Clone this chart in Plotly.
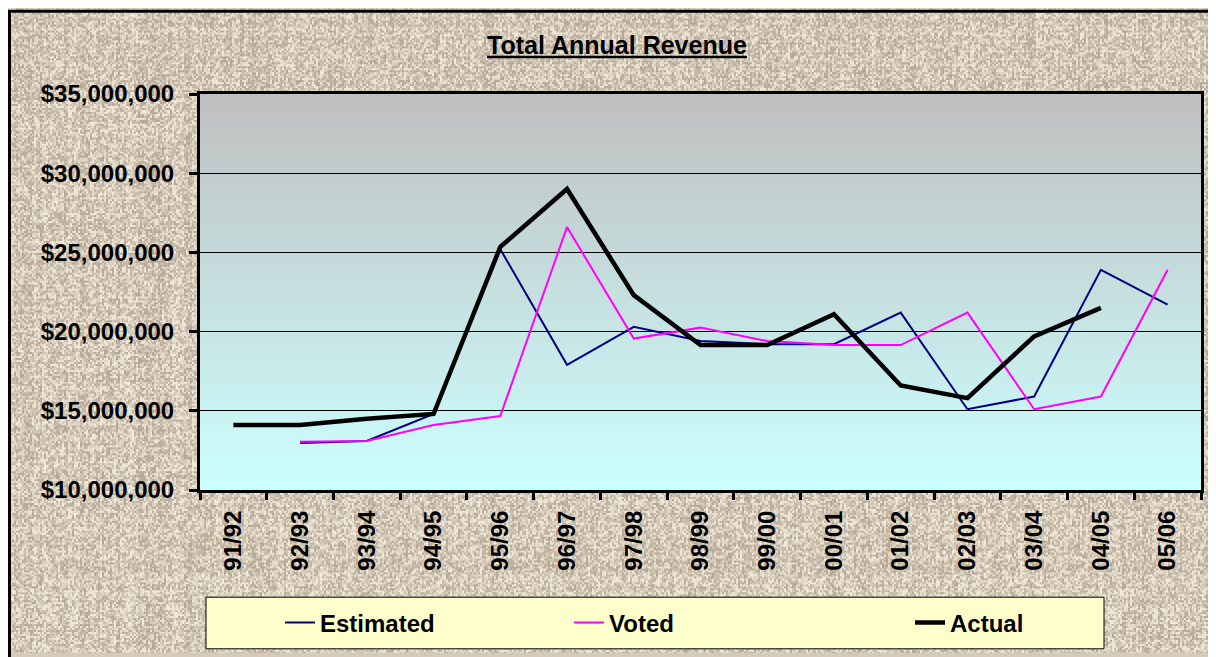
import base64
import struct
import zlib

import plotly.graph_objects as go

# ============================
# Dados
# ============================
years = ["91/92", "92/93", "93/94", "94/95", "95/96", "96/97", "97/98", "98/99",
         "99/00", "00/01", "01/02", "02/03", "03/04", "04/05", "05/06"]

estimated = [None, 12.96e6, 13.1e6, 14.8e6, 25.2e6, 17.9e6, 20.3e6, 19.4e6,
             19.2e6, 19.2e6, 21.2e6, 15.1e6, 15.9e6, 23.9e6, 21.7e6]

voted = [None, 13.05e6, 13.1e6, 14.1e6, 14.67e6, 26.6e6, 19.56e6, 20.25e6,
         19.4e6, 19.15e6, 19.15e6, 21.2e6, 15.1e6, 15.9e6, 23.9e6]

actual = [14.1e6, 14.1e6, 14.5e6, 14.8e6, 25.35e6, 29.0e6, 22.3e6, 19.15e6,
          19.15e6, 21.1e6, 16.6e6, 15.8e6, 19.7e6, 21.5e6, None]

FONT = "Arial, Liberation Sans, sans-serif"

# A página tem margem de 8px no body: a figura ocupa o resto da janela
W, H = 1208, 649
L, R, T, B = 192, 1193, 86, 485


def px_x(p):
    return (p - L) / (R - L)


def px_y(p):
    return (B - p) / (B - T)


def png_uri(width, height, rows):
    # rows: lista de bytes (RGB) já com o byte de filtro na frente
    def chunk(tag, data):
        return (struct.pack(">I", len(data)) + tag + data
                + struct.pack(">I", zlib.crc32(tag + data) & 0xFFFFFFFF))

    png = b"\x89PNG\r\n\x1a\n"
    png += chunk(b"IHDR", struct.pack(">IIBBBBB", width, height, 8, 2, 0, 0, 0))
    png += chunk(b"IDAT", zlib.compress(b"".join(rows), 9))
    png += chunk(b"IEND", b"")
    return "data:image/png;base64," + base64.b64encode(png).decode()


# Gradiente da área do gráfico (cinza em cima, turquesa claro embaixo)
def gradient_png(top, bottom, n=256):
    rows = []
    for i in range(n):
        t = i / (n - 1)
        c = bytes(int(round(top[k] + (bottom[k] - top[k]) * t)) for k in range(3))
        rows.append(b"\x00" + c * 2)
    return png_uri(2, n, rows)


# Textura de "papel/tecido" do fundo (padrão fixo, blocos de 2px)
def hash01(a, b=0):
    h = (a * 374761393 + b * 668265263 + 1442695041) & 0xFFFFFFFF
    h = ((h ^ (h >> 13)) * 1274126177) & 0xFFFFFFFF
    h ^= h >> 16
    return (h & 0xFFFF) / 65535.0


def texture_png(width, height, dark, light, blk=2):
    nbx = (width + blk - 1) // blk
    nby = (height + blk - 1) // blk
    col = [hash01(i, 7) for i in range(nbx)]
    row = [hash01(j, 11) for j in range(nby)]
    rows = []
    for by in range(nby):
        line = bytearray()
        for bx in range(nbx):
            v = 0.18 * col[bx] + 0.14 * row[by] + 0.68 * hash01(bx, by + 101)
            v = min(1.0, max(0.0, (v - 0.5) * 1.7 + 0.5))
            c = bytes(int(dark[k] + (light[k] - dark[k]) * v) for k in range(3))
            line += c * blk
        line = bytes(line[:width * 3])
        for r in range(blk):
            if by * blk + r >= height:
                break
            rows.append(b"\x00" + line if r == 0 else b"\x02" + bytes(width * 3))
    return png_uri(width, height, rows)


x_idx = list(range(len(years)))

fig = go.Figure()
fig.add_trace(go.Scatter(x=x_idx, y=estimated, name="Estimated", mode="lines",
                         line=dict(color="#000080", width=2), legend="legend"))
fig.add_trace(go.Scatter(x=x_idx, y=voted, name="Voted", mode="lines",
                         line=dict(color="#FF00FF", width=2), legend="legend2"))
fig.add_trace(go.Scatter(x=x_idx, y=actual, name="Actual", mode="lines",
                         line=dict(color="#000000", width=4.5), legend="legend3"))

leg = dict(orientation="h", y=px_y(619), xanchor="left", yanchor="middle",
           bgcolor="rgba(0,0,0,0)", borderwidth=0,
           font=dict(size=24, family=FONT, weight="bold"))

fig.update_layout(
    width=W, height=H,
    margin=dict(l=L, r=W - R, t=T, b=H - B, pad=0),
    paper_bgcolor="#D5CABA",
    plot_bgcolor="rgba(0,0,0,0)",
    font=dict(family=FONT, color="black"),
    title=dict(text="<b><u>Total Annual Revenue</u></b>", x=px_x(609), xref="paper",
               xanchor="center", y=1 - 37 / H, yanchor="middle",
               font=dict(size=25, family=FONT)),
    showlegend=True,
    legend=dict(leg, x=px_x(272)),
    legend2=dict(leg, x=px_x(561)),
    legend3=dict(leg, x=px_x(902)),
    images=[
        dict(source=texture_png(W, H, (182, 168, 150), (240, 232, 216)),
             xref="paper", yref="paper", x=px_x(0), y=px_y(0),
             sizex=W / (R - L), sizey=H / (B - T),
             xanchor="left", yanchor="top", sizing="stretch", layer="below"),
        dict(source=gradient_png((192, 192, 192), (204, 255, 255)),
             xref="paper", yref="paper", x=0, y=1, sizex=1, sizey=1,
             xanchor="left", yanchor="top", sizing="stretch", layer="below"),
    ],
    shapes=[
        # moldura externa
        dict(type="rect", xref="paper", yref="paper", x0=px_x(1.5), x1=px_x(W + 10),
             y0=px_y(H + 10), y1=px_y(2.5), fillcolor="rgba(0,0,0,0)",
             line=dict(color="black", width=3), layer="above"),
        # caixa da legenda
        dict(type="rect", xref="paper", yref="paper", x0=px_x(198), x1=px_x(1096),
             y0=px_y(645), y1=px_y(593), fillcolor="#FFFFCC",
             line=dict(color="black", width=1), layer="below"),
    ],
)

fig.update_xaxes(
    range=[-0.5, len(years) - 0.5],
    tickmode="array", tickvals=x_idx, ticktext=years,
    ticks="", tickangle=-90, ticklabelstandoff=8,
    tickfont=dict(size=24, family=FONT, color="black", weight="bold"),
    showgrid=False, zeroline=False,
    showline=True, linecolor="black", linewidth=3, mirror=True,
    minor=dict(tick0=-0.5, dtick=1, ticks="outside", ticklen=7, tickwidth=3,
               tickcolor="black", showgrid=False),
)

fig.update_yaxes(
    range=[10e6, 35e6], dtick=5e6, tickformat="$,.0f",
    ticks="outside", ticklen=8, tickwidth=3, tickcolor="black",
    ticklabelstandoff=10,
    tickfont=dict(size=24, family=FONT, color="black", weight="bold"),
    showgrid=True, gridcolor="black", gridwidth=1, zeroline=False,
    showline=True, linecolor="black", linewidth=3, mirror=True,
)

fig.write_html("out.html")
